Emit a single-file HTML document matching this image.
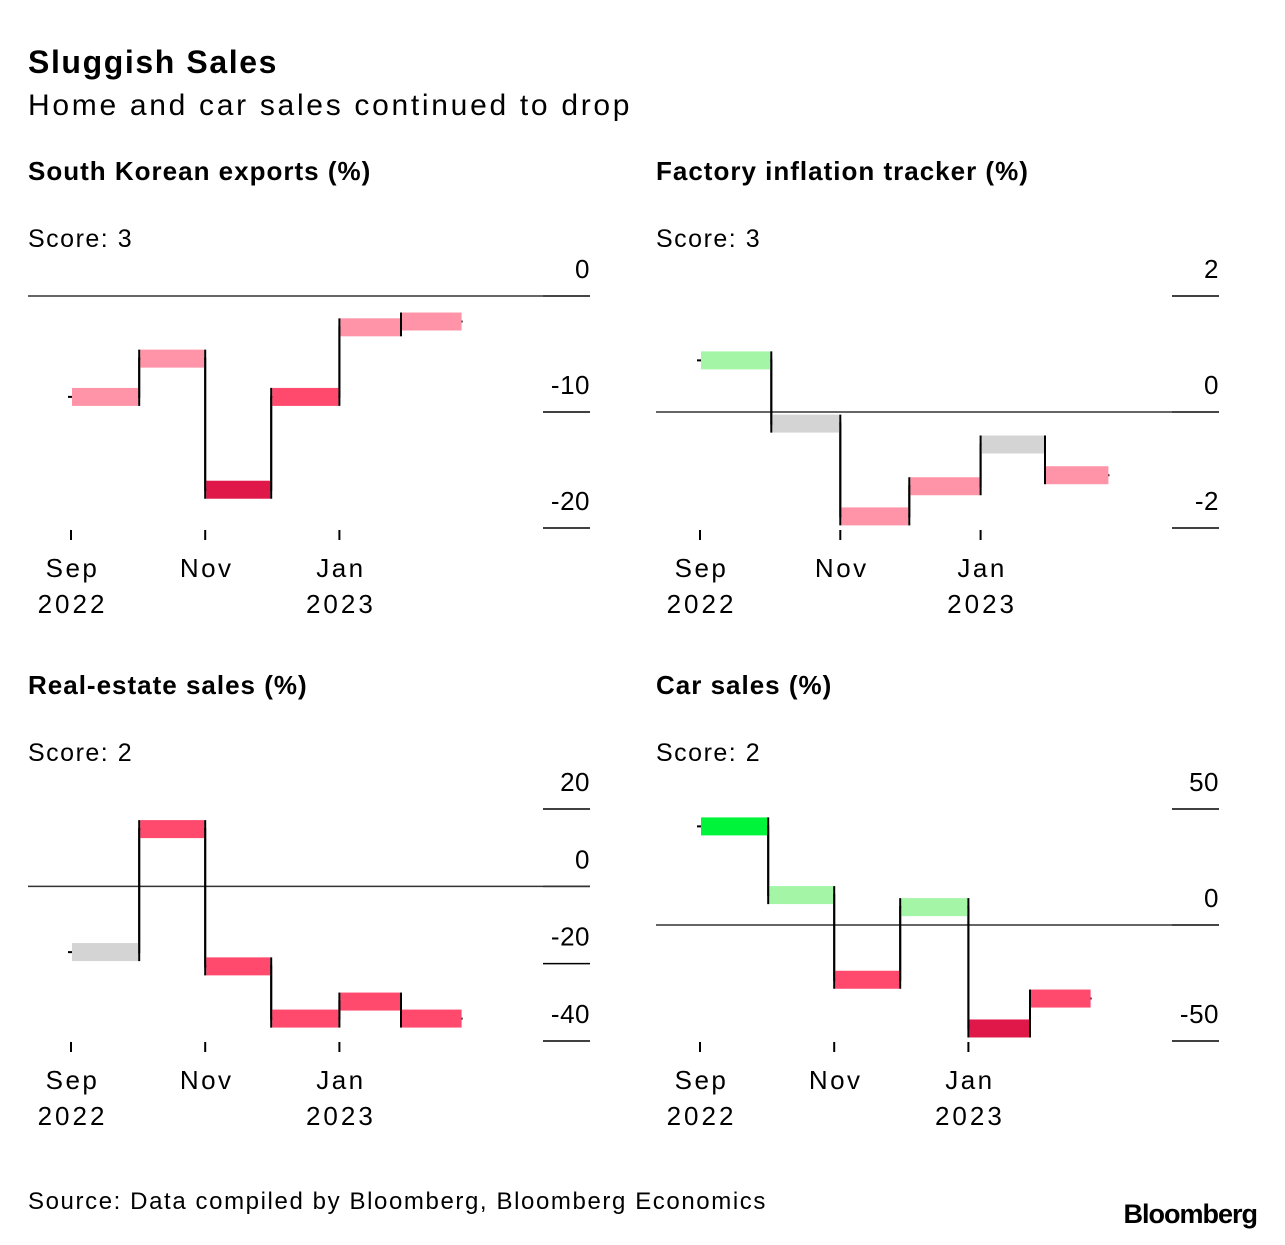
<!DOCTYPE html>
<html><head><meta charset="utf-8"><style>
body{margin:0;background:#fff;width:1285px;height:1240px;overflow:hidden;font-family:"Liberation Sans",sans-serif;color:#000}
svg text{font-family:"Liberation Sans",sans-serif}
</style></head><body>
<svg id="c" width="1285" height="1240">
<text x="28" y="73" font-size="32" font-weight="bold" letter-spacing="1.6">Sluggish Sales</text>
<text x="28" y="115" font-size="30" letter-spacing="2.7">Home and car sales continued to drop</text>
<text x="28" y="1209" font-size="24" letter-spacing="1.6">Source: Data compiled by Bloomberg, Bloomberg Economics</text>
<text x="1257" y="1223" font-size="27" font-weight="bold" text-anchor="end" letter-spacing="-1">Bloomberg</text>
</svg>
<script>
const months = ["Sep","Oct","Nov","Dec","Jan","Feb"];
const exportsVals = [-8.7,-5.4,-16.7,-8.7,-2.7,-2.2];
const exportsCols = ["light","light","deep","mid","light","light"];
const exportsTicks = [0,-10,-20];
const factoryVals = [0.89,-0.2,-1.8,-1.28,-0.56,-1.09];
const factoryCols = ["lgreen","grey","light","light","grey","light"];
const factoryTicks = [2,0,-2];
const estateVals = [-17,14.8,-20.7,-34.2,-29.8,-34.2];
const estateCols = ["grey","mid","mid","mid","mid","mid"];
const estateTicks = [20,0,-20,-40];
const carVals = [42.5,12.9,-23.6,7.7,-44.6,-31.7];
const carCols = ["bgreen","lgreen","mid","lgreen","deep","mid"];
const carTicks = [50,0,-50];
const monthDays = [31,30,30,31,28,28];
const palette = {light:"#ff94a8",deep:"#e0184a",mid:"#ff4a6e",lgreen:"#a4f5a6",bgreen:"#00f53a",grey:"#d4d4d4"};
const NS="http://www.w3.org/2000/svg";
const svg=document.getElementById('c');
function mk(tag,attrs,parent){const e=document.createElementNS(NS,tag);for(const k in attrs)e.setAttribute(k,attrs[k]);(parent||svg).appendChild(e);return e;}
function panel(o){
  const g=mk('g',{});
  
  
  const t=mk('text',{x:o.x0,y:o.top+10,'font-size':26,'font-weight':'bold','letter-spacing':1},g);t.textContent=o.title;
  
  
  const s=mk('text',{x:o.x0,y:o.top+77,'font-size':25,'letter-spacing':1.5},g);s.textContent=o.score;
  
  
  const y=v=>o.yA+(v-o.vA)*(o.yB-o.yA)/(o.vB-o.vA);
  let cum=[0];monthDays.forEach(d=>cum.push(cum[cum.length-1]+d));
  const x=d=>o.xSep+d*o.pxDay;
  o.ticks.forEach(v=>{
    const l=mk('line',{x1:o.x1-47,x2:o.x1,y1:y(v),y2:y(v),stroke:'#000','stroke-width':1.5},g);
    
    
    const tx=mk('text',{x:o.x1,y:y(v)-18,'font-size':26,'text-anchor':'end','letter-spacing':0.5},g);tx.textContent=String(v);
    
    
  });
  const z=mk('line',{x1:o.x0,x2:o.x1,y1:y(0),y2:y(0),stroke:'#333','stroke-width':1.5},g);
  
  
  [[0,'Sep','2022'],[2,'Nov',''],[4,'Jan','2023']].forEach(([i,m,yr])=>{
    const xx=x(cum[i]);
    const l=mk('line',{x1:xx,x2:xx,y1:o.axisY,y2:o.axisY+10,stroke:'#000','stroke-width':2},g);
    
    
    const a=mk('text',{x:xx+1.5,y:o.axisY+47,'font-size':26,'text-anchor':'middle','letter-spacing':2.5},g);a.textContent=m;
    
    
    if(yr){const b=mk('text',{x:xx+1.5,y:o.axisY+83,'font-size':26,'text-anchor':'middle','letter-spacing':3},g);b.textContent=yr;
      
      }
  });
  let d='M'+(x(0)-3)+','+y(o.vals[0]);
  o.vals.forEach((v,i)=>{d+=' L'+x(cum[i])+','+y(v)+' L'+x(cum[i+1])+','+y(v);if(i<o.vals.length-1)d+=' L'+x(cum[i+1])+','+y(o.vals[i+1]);});
  const p=mk('path',{d:d,fill:'none',stroke:'#000','stroke-width':2},g);
  
  
  o.vals.forEach((v,i)=>{
    const r=mk('rect',{x:x(cum[i])+1,y:y(v)-9,width:x(cum[i+1])-x(cum[i])-2,height:18,fill:palette[o.cols[i]]},g);
    
    
  });
  o.vals.forEach((v,i)=>{if(i<o.vals.length-1){const xx=x(cum[i+1]);
    const l=mk('line',{x1:xx,x2:xx,y1:y(v)+(o.vals[i+1]<v?-9:9),y2:y(o.vals[i+1])+(o.vals[i+1]<v?9:-9),stroke:'#000','stroke-width':2},g);
    
    }});
}
panel({name:'exports-panel',title:'South Korean exports (%)',score:'Score: 3',x0:28,x1:590,top:170,vals:exportsVals,cols:exportsCols,ticks:exportsTicks,vA:0,yA:296,vB:-20,yB:528,xSep:71,pxDay:2.2,axisY:530});
panel({name:'factory-panel',title:'Factory inflation tracker (%)',score:'Score: 3',x0:656,x1:1219,top:170,vals:factoryVals,cols:factoryCols,ticks:factoryTicks,vA:2,yA:296,vB:-2,yB:528,xSep:700,pxDay:2.3,axisY:530});
panel({name:'real-estate-panel',title:'Real-estate sales (%)',score:'Score: 2',x0:28,x1:590,top:684,vals:estateVals,cols:estateCols,ticks:estateTicks,vA:20,yA:809,vB:-40,yB:1041,xSep:71,pxDay:2.2,axisY:1042});
panel({name:'car-sales-panel',title:'Car sales (%)',score:'Score: 2',x0:656,x1:1219,top:684,vals:carVals,cols:carCols,ticks:carTicks,vA:50,yA:809,vB:-50,yB:1041,xSep:700,pxDay:2.2,axisY:1042});
</script>
</body></html>
